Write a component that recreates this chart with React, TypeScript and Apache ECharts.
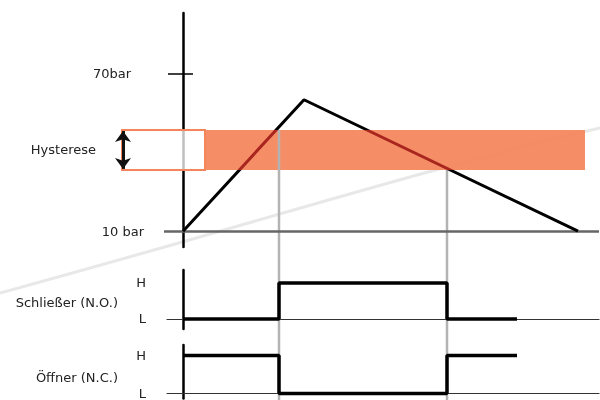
import React, { useEffect, useRef } from "react";
import * as echarts from "echarts";

// Pressure curve (time units, bar)
const pressureTimes = [0, 30.25, 98.75];
const pressureValues = [10, 60, 10];
// Hysteresis band [lower, upper] in bar, and its horizontal extent (time)
const hysteresis = [33.3, 48.5];
const hysteresisBoxX = [-15.25, 5.5];
const hysteresisBandX = [5.5, 100.5];
// Switching points (time) at upper / lower threshold
const switchTimes = [24, 66];
// Output signals
const signalTimes = [0, 24, 66, 83.5];
const noStates = [0, 1, 0, 0];
const ncStates = [1, 0, 1, 1];
// Axis labels
const pressureTickValues = [10, 70];
const pressureTickLabels = ["10 bar", "70bar"];
const stateValues = [0, 1];
const stateLabels = ["L", "H"];
const baselineX = [-4.75, 104];

const ORANGE = "#f4845b";
const FONT = "DejaVu Sans";

export default function App() {
  const ref = useRef<HTMLDivElement>(null);
  useEffect(() => {
    if (!ref.current) return;
    const chart = echarts.init(ref.current, undefined, { renderer: "svg" });
    const stateAxis = (gridIndex: number, min: number, max: number, name: string, lh: number) => ({
      gridIndex,
      type: "value",
      min,
      max,
      position: "left",
      offset: -16,
      name,
      nameLocation: "middle",
      nameRotate: 0,
      nameGap: 65,
      nameTextStyle: { fontSize: 13, color: "#222", fontFamily: FONT, verticalAlign: "top", lineHeight: lh },
      axisLine: { show: true, onZero: false, lineStyle: { color: "#000", width: 2.5 } },
      axisTick: { show: false },
      splitLine: { show: false },
      axisLabel: {
        customValues: stateValues,
        formatter: (v: number) => stateLabels[stateValues.indexOf(v)],
        margin: 37,
        fontSize: 13,
        color: "#222",
        fontFamily: FONT,
      },
    });
    const signalXAxis = (gridIndex: number) => ({
      gridIndex,
      type: "value",
      min: -4,
      max: 104,
      axisLine: { show: true, onZero: true, lineStyle: { color: "#333", width: 1.2 } },
      axisTick: { show: false },
      axisLabel: { show: false },
      splitLine: { show: false },
    });
    const option: any = {
      animation: false,
      textStyle: { fontFamily: FONT },
      graphic: [
        {
          type: "bezierCurve",
          silent: true,
          z: -1,
          shape: { x1: 0, y1: 293, x2: 600, y2: 128, cpx1: 260, cpy1: 222, cpx2: 420, cpy2: 170 },
          style: { stroke: "#e8e8e8", lineWidth: 3, fill: null },
        },
      ],
      grid: [
        { left: 119, right: 1, top: 13, bottom: 153 },
        { left: 167, right: 1, top: 270, height: 59 },
        { left: 167, right: 1, top: 345, height: 55 },
      ],
      xAxis: [
        { gridIndex: 0, type: "value", min: -16, max: 104, show: false, axisLine: { onZero: false } },
        signalXAxis(1),
        signalXAxis(2),
      ],
      yAxis: [
        {
          gridIndex: 0,
          type: "value",
          min: 4,
          max: 93,
          position: "left",
          offset: -64,
          axisLine: { show: true, onZero: false, lineStyle: { color: "#000", width: 2.5 } },
          axisTick: { show: true, customValues: [70], length: 15, lineStyle: { color: "#000", width: 1.5 } },
          splitLine: { show: false },
          axisLabel: {
            customValues: pressureTickValues,
            formatter: (v: number) => {
              const t = pressureTickLabels[pressureTickValues.indexOf(v)];
              return v === 70 ? `{far|${t}}` : `{near|${t}}`;
            },
            margin: 39,
            rich: {
              far: { fontSize: 13, color: "#222", fontFamily: FONT, padding: [0, 13, 0, 0] },
              near: { fontSize: 13, color: "#222", fontFamily: FONT },
            },
          },
        },
        {
          gridIndex: 0,
          type: "value",
          min: 4,
          max: 93,
          position: "left",
          offset: -64,
          axisLine: { show: false, onZero: false },
          axisTick: { show: true, inside: true, customValues: [70], length: 10, lineStyle: { color: "#000", width: 1.5 } },
          axisLabel: { show: false },
          splitLine: { show: false },
        },
        stateAxis(1, -0.28, 1.36, "Schließer (N.O.)", 6),
        stateAxis(2, -0.13, 1.28, "Öffner (N.C.)", 12),
      ],
      visualMap: {
        type: "piecewise",
        show: false,
        seriesIndex: 0,
        dimension: 1,
        pieces: [
          { lt: hysteresis[0], color: "#000" },
          { gte: hysteresis[0], lte: hysteresis[1], color: "#a8261d" },
          { gt: hysteresis[1], color: "#000" },
        ],
      },
      series: [
        {
          type: "line",
          xAxisIndex: 0,
          yAxisIndex: 0,
          z: 10,
          symbol: "none",
          lineStyle: { width: 3 },
          data: pressureTimes.map((t, i) => [t, pressureValues[i]]),
        },
        {
          type: "custom",
          xAxisIndex: 0,
          yAxisIndex: 0,
          z: 1,
          silent: true,
          data: [
            [switchTimes[0], hysteresis[1]],
            [switchTimes[1], hysteresis[0]],
          ],
          renderItem: (params: any, api: any) => {
            const p = api.coord([api.value(0), api.value(1)]);
            return {
              type: "line",
              shape: { x1: p[0], y1: p[1], x2: p[0], y2: api.getHeight() },
              style: { stroke: "#b3b3b3", lineWidth: 2.5 },
            };
          },
        },
        {
          type: "line",
          xAxisIndex: 0,
          yAxisIndex: 0,
          z: 2,
          data: [],
          markArea: {
            silent: true,
            label: { show: false },
            data: [
              [
                {
                  coord: [hysteresisBoxX[0], hysteresis[1]],
                  itemStyle: { color: "rgba(255,255,255,0.75)", borderColor: ORANGE, borderWidth: 2 },
                  label: {
                    show: true,
                    position: "left",
                    distance: 25,
                    formatter: "Hysterese",
                    color: "#222",
                    fontSize: 13,
                    fontFamily: FONT,
                  },
                },
                { coord: [hysteresisBoxX[1], hysteresis[0]] },
              ],
              [
                { coord: [hysteresisBandX[0], hysteresis[1]], itemStyle: { color: ORANGE, opacity: 0.93 } },
                { coord: [hysteresisBandX[1], hysteresis[0]] },
              ],
            ],
          },
        },
        {
          type: "line",
          xAxisIndex: 0,
          yAxisIndex: 0,
          z: 12,
          data: [],
          markLine: {
            silent: true,
            symbol: ["none", "none"],
            label: { show: false },
            data: [
              [
                { coord: [baselineX[0], pressureValues[0]], lineStyle: { color: "#666", width: 2.5, type: "solid" } },
                { coord: [baselineX[1], pressureValues[0]] },
              ],
              [
                {
                  coord: [hysteresisBoxX[0] + 0.25, hysteresis[1] - 0.4],
                  symbol: "arrow",
                  symbolSize: [12, 11],
                  lineStyle: { color: "#111", width: 3, type: "solid" },
                },
                { coord: [hysteresisBoxX[0] + 0.25, hysteresis[0] + 0.4], symbol: "arrow", symbolSize: [12, 11] },
              ],
            ],
          },
        },
        {
          type: "line",
          xAxisIndex: 1,
          yAxisIndex: 2,
          z: 3,
          step: "end",
          symbol: "none",
          lineStyle: { width: 3.5, color: "#000" },
          data: signalTimes.map((t, i) => [t, noStates[i]]),
        },
        {
          type: "line",
          xAxisIndex: 2,
          yAxisIndex: 3,
          z: 3,
          step: "end",
          symbol: "none",
          lineStyle: { width: 3.5, color: "#000" },
          data: signalTimes.map((t, i) => [t, ncStates[i]]),
        },
      ],
    };
    chart.setOption(option);
    return () => chart.dispose();
  }, []);
  return <div ref={ref} style={{ width: 600, height: 400, position: "fixed", left: 0, top: 0 }} />;
}
